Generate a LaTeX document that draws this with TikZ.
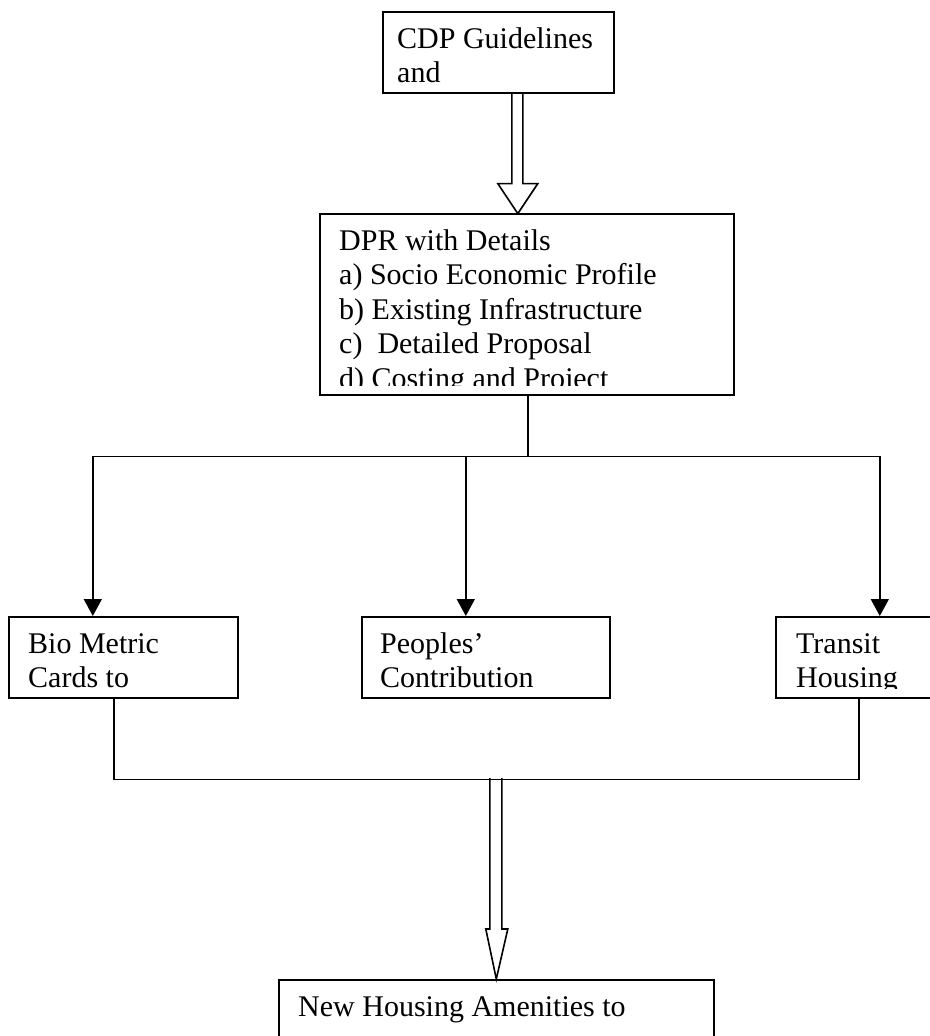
\documentclass[tikz,border=0pt]{standalone}
\usepackage{fontspec}
\setmainfont{Liberation Serif}
\usetikzlibrary{arrows.meta}

\tikzset{
  box/.style={rectangle, draw, line width=1.6pt, anchor=north west, inner sep=0pt},
  txt/.style={anchor=base west, align=left, inner sep=0pt, font=\fontsize{30}{34.5}\selectfont},
  flow/.style={line width=1.6pt, -{Triangle[width=18pt,length=17pt]}},
  link/.style={line width=1.6pt},
  hollow/.style={line width=1.6pt, line join=miter}
}

\begin{document}
\begin{tikzpicture}[x=1pt, y=-1pt]
        \useasboundingbox (0,0) rectangle (929,1036);

        % Guidelines
        \node[box, minimum width=231pt, minimum height=81pt] (cdp) at (382,11) {};
        \begin{scope}
          \clip (cdp.north west) rectangle ([yshift=10.5pt]cdp.south east);
          \node[txt] (cdptext) at ([xshift=15pt,yshift=-71.5pt]cdp.north west) {CDP Guidelines\\and};
        \end{scope}

        % DPR
        \node[box, minimum width=414pt, minimum height=181pt] (dpr) at (319,213) {};
        \begin{scope}
          \clip (dpr.north west) rectangle ([yshift=10.5pt]dpr.south east);
          \node[txt] (dprtext) at ([xshift=20pt,yshift=-175pt]dpr.north west)
            {DPR with Details\\a) Socio Economic Profile\\b) Existing Infrastructure\\c)\ \ Detailed Proposal\\d) Costing and Project};
        \end{scope}

        % Bio Metric
        \node[box, minimum width=229pt, minimum height=81pt] (bio) at (8,616) {};
        \begin{scope}
          \clip (bio.north west) rectangle ([yshift=10.5pt]bio.south east);
          \node[txt] (biotext) at ([xshift=20pt,yshift=-71.5pt]bio.north west) {Bio Metric\\Cards to};
        \end{scope}

        % Peoples Contribution
        \node[box, minimum width=248pt, minimum height=81pt] (peo) at (361,616) {};
        \begin{scope}
          \clip (peo.north west) rectangle ([yshift=10.5pt]peo.south east);
          \node[txt] (peotext) at ([xshift=19pt,yshift=-71.5pt]peo.north west) {Peoples'\\Contribution};
        \end{scope}

        % Transit Housing
        \node[box, minimum width=156pt, minimum height=81pt] (tra) at (775,616) {};
        \begin{scope}
          \clip (tra.north west) rectangle ([yshift=10.5pt]tra.south east);
          \node[txt] (tratext) at ([xshift=21pt,yshift=-71.5pt]tra.north west) {Transit\\Housing};
        \end{scope}

        % New Housing
        \node[box, minimum width=435pt, minimum height=81pt] (new) at (278,979) {};
        \node[txt] (newtext) at ([xshift=20pt,yshift=-37pt]new.north west) {New Housing Amenities to};

        % Connections
        \draw[hollow] ([xshift=13.5pt]cdp.south) -- ++(0,90) -- ++(-14,0) -- ++(20,30) -- ++(20,-30) -- ++(-15,0) -- ++(0,-90);
        \draw[flow] ([xshift=1pt]dpr.south) -- ++(0,61) -| ([xshift=-30.5pt]bio.north);
        \draw[flow] ([xshift=1pt]dpr.south) -- ++(0,61) -| ([xshift=-20pt]peo.north);
        \draw[flow] ([xshift=1pt]dpr.south) -- ++(0,61) -| ([xshift=26pt]tra.north);
        \draw[link] ([xshift=-9.5pt]bio.south) -- ++(0,81) -| ([xshift=5pt]tra.south);
        \draw[hollow] ([xshift=-6.5pt,yshift=201pt]new.north) -- ++(0,151) -- ++(-4,0) -- (new.north) -- ++(11.5,-50) -- ++(-6,0) -- ++(0,-151);
    \end{tikzpicture}
\end{document}
